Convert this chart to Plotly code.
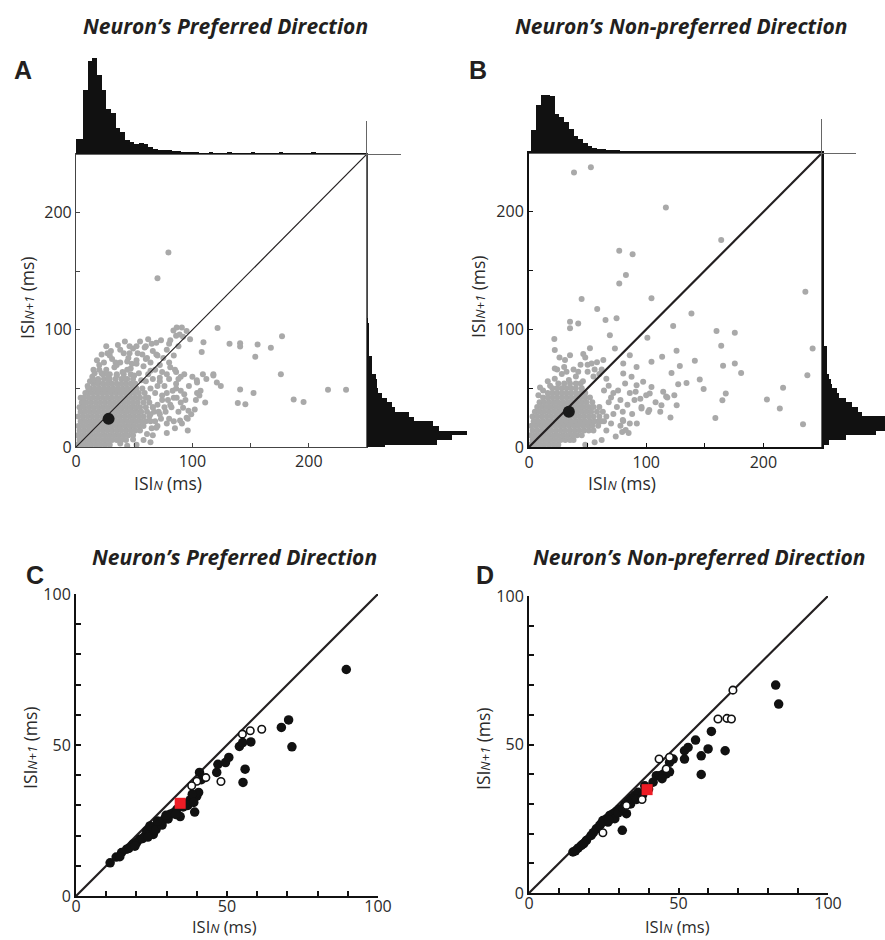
import plotly.graph_objects as go

W, H = 885, 940

# ---------------- DATA ----------------
# Panel A dense cloud (rows: y value -> x values), ms
a_core_rows_y = [2, 6, 10, 14, 18, 22, 26, 30, 34, 38, 42, 46, 50, 54, 58, 62]
a_core_rows_x = [
    [1, 5, 9, 13, 17, 21, 25, 29],
    [3, 7, 11, 15, 19, 23, 27, 31, 35, 39, 43],
    [1, 5, 9, 13, 17, 21, 25, 29, 33, 37, 41, 45, 49],
    [3, 7, 11, 15, 19, 23, 27, 31, 35, 39, 43, 47, 51, 55],
    [2, 6, 10, 14, 18, 22, 26, 30, 34, 38, 42, 46, 50, 54, 58],
    [4, 8, 12, 16, 20, 24, 28, 32, 36, 40, 44, 48, 52, 56, 60, 64],
    [2, 6, 10, 14, 18, 22, 26, 30, 34, 38, 42, 46, 50, 54, 58, 63],
    [4, 8, 12, 16, 20, 24, 28, 32, 36, 40, 44, 48, 52, 56, 61, 67],
    [3, 7, 11, 15, 19, 23, 27, 31, 35, 39, 43, 47, 51, 55, 60, 66],
    [5, 9, 13, 17, 21, 25, 29, 33, 37, 41, 45, 49, 53, 58, 63],
    [7, 11, 15, 19, 23, 27, 31, 35, 39, 43, 47, 51, 55, 60],
    [10, 14, 18, 22, 26, 30, 34, 38, 42, 46, 50, 54, 59],
    [12, 16, 20, 24, 28, 32, 36, 40, 44, 48, 52, 57],
    [15, 19, 23, 27, 31, 35, 39, 43, 47, 51],
    [19, 24, 29, 34, 39, 44, 49],
    [23, 29, 35, 41, 47],
]
a_halo_x = [14, 20, 27, 33, 40, 47, 54, 58, 24, 31, 38, 45, 52, 57, 64, 66, 72, 75, 78, 30,
            36, 42, 49, 55, 62, 84, 88, 92, 98, 18, 12, 8, 4, 66, 70, 74,
            66, 70, 73, 76, 79, 83, 86, 88, 90, 93, 97, 99, 103, 107, 64, 58, 52, 44, 78,
            85, 91, 96, 100, 93, 86, 80, 74, 68, 64, 60,
            10, 16, 22, 28, 35, 42, 50, 56, 62, 68, 60, 70, 80, 85, 90, 20, 27, 34, 41, 46,
            53, 59, 65, 73, 80, 86, 15, 26, 44, 48,
            65, 68, 71, 70, 74, 77, 80, 82, 84, 86, 90, 94, 96, 76, 72, 78, 88, 62, 64, 66]
a_halo_y = [60, 66, 62, 68, 64, 67, 63, 69, 72, 75, 72, 76, 74, 79, 72, 82, 70, 76, 83, 82,
            87, 90, 84, 90, 92, 78, 86, 94, 92, 74, 56, 46, 42, 58, 52, 64,
            10, 18, 24, 34, 40, 48, 54, 30, 38, 45, 52, 28, 40, 48, 4, 6, 2, 1, 12,
            16, 20, 14, 60, 62, 64, 58, 44, 46, 50, 56,
            52, 57, 63, 58, 61, 58, 61, 57, 62, 66, 75, 78, 72, 66, 60, 70, 80, 72, 80, 86,
            80, 85, 88, 91, 88, 95, 66, 86, 66, 71,
            16, 22, 30, 36, 40, 30, 24, 34, 42, 50, 48, 40, 24, 52, 56, 62, 58, 42, 28, 34]
a_sparse_x = [22, 29, 38, 46, 52, 60, 69, 86.5, 89, 81, 95, 16, 26, 35, 44, 52, 61, 69,
              10.6, 6, 19, 64, 72, 81, 78, 86.5, 81, 92, 72, 84, 95, 102, 69, 61, 49, 38,
              109, 112, 104, 118, 121, 111, 104,
              79.4, 70, 83.7, 90.9, 121.6, 109.5, 108, 131.9, 141, 141, 156, 167.4, 177,
              154, 176, 118, 124.4, 141, 152.5, 139, 145.5, 187, 195.5, 216.5, 232, 106,
              103.8, 96.6, 89.4, 78]
a_sparse_y = [79, 78, 83, 80, 86, 86, 89, 102, 96, 91, 99, 63, 66, 70, 73, 71, 76, 79,
              50, 38, 56, 65, 59, 68, 46, 42, 36, 33.5, 28, 22, 25, 32, 16.5, 11, 6.5, 3,
              62, 58, 55, 62, 55, 38, 46,
              166, 144, 99.4, 102, 101.6, 89.4, 81, 88, 88.6, 85.8, 87.5, 84.7, 94.6,
              77, 62, 61, 52, 49, 46, 37.5, 36.4, 40.6, 38.4, 48.9, 48.9, 44,
              57, 31, 22.7, 20]
a_mean = (28, 24)

# Panel B dense cloud
b_core_rows_y = [2, 6, 10, 14, 18, 22, 26, 30, 34, 38, 42, 46, 50, 54]
b_core_rows_x = [
    [1, 5, 9, 13, 17, 21, 25],
    [3, 7, 11, 15, 19, 23, 27, 31, 35, 38],
    [1, 5, 9, 13, 17, 21, 25, 29, 33, 37, 41, 45],
    [3, 7, 11, 15, 19, 23, 27, 31, 35, 39, 43, 47, 51, 55],
    [2, 6, 10, 14, 18, 22, 26, 30, 34, 38, 42, 46, 50, 54, 59],
    [4, 8, 12, 16, 20, 24, 28, 32, 36, 40, 44, 48, 52, 56, 60, 64],
    [3, 7, 11, 15, 19, 23, 27, 31, 35, 39, 43, 47, 51, 55, 60, 66],
    [5, 9, 13, 17, 21, 25, 29, 33, 37, 41, 45, 49, 53, 58, 63],
    [7, 11, 15, 19, 23, 27, 31, 35, 39, 43, 47, 51, 55, 60],
    [9, 13, 17, 21, 25, 29, 33, 37, 41, 45, 49, 54],
    [12, 16, 20, 24, 28, 32, 36, 40, 44, 48, 52],
    [16, 20, 24, 28, 32, 36, 40, 44, 48],
    [20, 24, 28, 32, 36, 40, 45],
    [25, 30, 35, 40, 44],
]
b_halo_x = [22, 28, 34, 40, 46, 30, 38, 44, 50, 55, 26, 35, 48, 18, 12, 8, 52, 58, 62, 66,
            66, 70, 72, 75, 78, 84, 88, 92, 96, 100, 86, 76, 70, 68, 62, 56, 48, 108, 112,
            118, 74, 85,
            16, 24, 32, 42, 50, 56, 60, 64, 68, 72, 80, 86, 78, 90, 62]
b_halo_y = [58, 62, 57, 60, 56, 68, 66, 70, 64, 60, 76, 78, 76, 52, 48, 44, 84, 72, 66, 58,
            14, 20, 28, 34, 40, 36, 28, 20, 34, 44, 46, 48, 42, 52, 6, 4, 2, 38, 30,
            42, 9, 12,
            56, 66, 64, 64, 70, 66, 62, 48, 38, 46, 30, 20, 18, 40, 22]
b_sparse_x = [38.4, 52.8, 116.8, 164, 235.8, 242, 237.5, 233.8, 77, 88.4,
              82.7, 77, 44.9, 104.5, 58.2, 65.3, 74.7, 35, 42, 35,
              138.6, 123, 101, 160, 175.6, 164, 69, 73.3, 21.6, 22,
              86, 125.9, 141.5, 113.6, 104.5, 165.6, 175.6, 181, 128.7, 121.6,
              145.7, 127.3, 134.4, 149, 216.8, 167.9, 165, 203, 214, 91.8,
              97.4, 104.5, 114.5, 117, 103, 124, 126, 113, 120.7, 159,
              101.7, 96, 80.4, 79.5, 37.8, 9.4, 22, 30.7, 46.3, 53.4,
              63.4, 80.4, 87.5, 80.4, 91.8, 82, 91, 95, 102.6, 80, 82.5]
b_sparse_y = [233.5, 237.8, 203.7, 176, 132, 83.8, 61, 19.3, 166.8, 164,
              146.3, 139, 125.9, 126.4, 117.3, 108, 109.4, 106.5, 105, 101,
              113.6, 102.8, 92.9, 98.6, 97.2, 86, 95, 83.8, 91.8, 82.4,
              78, 81.8, 73.3, 76.7, 72.4, 69, 71, 63, 68.8, 63,
              57.4, 53.4, 54.5, 49.4, 50.3, 45.5, 39.8, 40.3, 32.7, 52.5,
              55.4, 51, 46.9, 43, 45.5, 44, 35.5, 35.5, 25, 24.7,
              29.8, 32.7, 22.2, 12.8, 10, 50.6, 66.8, 73.9, 79, 71,
              73.9, 71, 59.7, 62.5, 68, 54, 47, 41, 31.5, 23, 14.5]
b_mean = (34, 30)

# Marginal histograms (4-ms bins centred on 0, 4, 8 ... ms), bar lengths
a_top_hist = [15, 15, 64, 93, 96, 79, 64, 45, 41, 26, 22, 14, 12, 10, 11, 10, 7, 5, 4.5, 4,
              4, 3, 3, 2, 2, 1.5, 1.5, 1, 1, 1.5, 1, 1, 1, 1.5, 1, 1, 1, 1, 1.5, 1,
              1, 1, 1, 1, 1.5, 1, 1, 1, 1, 1, 1, 1.5, 1, 1, 1, 1, 0.5, 1, 0.5, 0.5,
              1, 0.5, 0.5]
a_right_hist = [18, 70, 85, 100, 72, 66, 47, 42, 28, 25, 20, 15, 11, 10, 10, 9, 5, 5, 5, 5,
                2, 2, 2, 2, 2, 2, 2, 0.5]
b_top_hist = [2, 23, 48, 58, 58, 57, 39, 36, 31, 24, 17, 14, 10, 7, 5, 4, 4, 3.5, 3, 3,
              2.5, 2, 2, 1.5, 1.5, 1.5, 1, 1.5, 1, 1, 1, 1.5, 1, 1, 1.5, 1, 1, 1, 1, 1,
              1, 1, 1, 1, 1, 1, 1, 1, 1, 1, 1, 1, 1, 1, 1, 1, 1, 1, 1, 1, 0.5, 0.5, 1]
b_right_hist = [2, 7, 24, 54, 75, 78, 70, 40, 36, 30, 24, 17, 15, 10, 9, 7, 5, 5, 5, 5,
                5, 5, 2, 2, 2, 2, 2, 2, 2, 2, 2, 2, 2, 2, 2, 1]
hist_bin = 4

# Panel C
c_filled_x = [11.3, 13.3, 15.1, 16.8, 18.8, 20.1, 21.2, 22.9, 24.0, 25.1, 25.9, 26.7, 27.8,
              29.2, 30.1, 31.2, 32.3, 33.4, 36.7, 37.8, 38.9, 40.0, 40.6, 23.4, 25.6, 24.5,
              34.5, 39.3, 40.9, 46.6, 47.0, 49.5, 50.6, 54.1, 55.2, 57.9, 56.0, 55.3, 68.0,
              70.4, 71.5, 89.5, 38.5, 41.5,
              14.5, 17.5, 19.5, 22.0, 23.8, 26.5, 28.5, 30.5, 33.0, 35.5, 37.0, 39.0, 27.0,
              29.8]
c_filled_y = [11.0, 12.9, 14.4, 15.5, 17.1, 17.7, 18.8, 19.9, 20.8, 21.5, 22.7, 23.4, 24.3,
              25.4, 26.3, 27.1, 27.6, 28.7, 30.7, 31.8, 32.6, 33.1, 34.3, 21.5, 20.4, 23.2,
              26.3, 27.8, 40.9, 40.9, 43.6, 44.2, 45.9, 49.5, 50.8, 51.0, 42.0, 37.6, 55.8,
              58.3, 49.4, 75.0, 33.7, 38.5,
              13.0, 15.8, 16.5, 19.0, 19.5, 22.0, 23.5, 25.5, 27.0, 29.5, 30.0, 31.0, 24.8,
              26.7]
c_open_x = [55.1, 57.7, 61.5, 43.0, 48.0, 40.0, 38.3]
c_open_y = [53.6, 54.7, 55.2, 39.2, 37.9, 38.0, 36.5]
c_red = (34.5, 30.7)

# Panel D
d_filled_x = [14.7, 16.4, 17.5, 19.2, 20.8, 22.5, 23.6, 24.7, 25.9, 27.0, 28.1, 29.2, 30.3,
              32.0, 33.1, 34.2, 35.3, 36.5, 26.4, 28.7, 32.6, 31.2, 41.5, 42.6, 43.7, 45.0,
              45.9, 47.0, 48.2, 52.0, 52.0, 53.2, 55.7, 57.6, 57.6, 59.9, 61.0, 65.6, 82.5,
              83.5, 38.7,
              15.5, 18.3, 21.5, 24.0, 26.8, 29.8, 31.5, 34.0, 36.0, 38.0, 40.0, 44.5, 47.0]
d_filled_y = [13.8, 15.1, 16.0, 17.7, 19.4, 21.6, 22.7, 24.4, 25.0, 26.1, 26.7, 27.4, 28.3,
              29.7, 30.8, 31.9, 32.8, 33.9, 23.9, 25.0, 26.7, 21.1, 37.3, 39.5, 39.5, 40.1,
              40.1, 44.0, 45.1, 47.9, 45.1, 49.0, 51.5, 46.2, 39.9, 48.5, 54.4, 47.9, 70.0,
              63.6, 36.1,
              14.2, 16.6, 20.3, 23.2, 24.5, 27.0, 28.5, 30.0, 31.5, 33.0, 35.0, 38.5, 40.8]
d_open_x = [68.2, 63.2, 66.2, 67.7, 43.5, 47.0, 37.8, 24.7, 32.6, 45.9]
d_open_y = [68.3, 58.6, 58.8, 58.6, 45.1, 45.7, 31.5, 20.3, 29.5, 41.8]
d_red = (39.5, 34.8)

ab_range = [0, 250]
cd_range = [0, 100]
ab_tickvals = [0, 50, 100, 150, 200]
ab_ticktext = ["0", "", "100", "", "200"]
cd_tickvals = [0, 10, 20, 30, 40, 50, 60, 70, 80, 90, 100]
cd_ticktext = ["0", "", "", "", "", "50", "", "", "", "", "100"]

titles = ["Neuron\u2019s Preferred Direction", "Neuron\u2019s Non-preferred Direction"]
letters = ["A", "B", "C", "D"]


def flatten(rows_y, rows_x):
    xs, ys = [], []
    for yv, row in zip(rows_y, rows_x):
        for xv in row:
            xs.append(xv)
            ys.append(yv)
    return xs, ys


# ---------------- FIGURE ----------------
def fx(px):
    return px / W


def fy(py):
    return 1 - py / H


GRAY = "#a9a9a9"
INK = "#231f20"
FONT = "Open Sans"

fig = go.Figure()

# Panel A and B scatter
for ax_id, rows_y, rows_x, hx, hy, sx, sy, mean, lw in [
    ("", a_core_rows_y, a_core_rows_x, a_halo_x, a_halo_y, a_sparse_x, a_sparse_y, a_mean, 1.2),
    ("4", b_core_rows_y, b_core_rows_x, b_halo_x, b_halo_y, b_sparse_x, b_sparse_y, b_mean, 2.2),
]:
    cx, cy = flatten(rows_y, rows_x)
    xa, ya = "x" + ax_id, "y" + ax_id
    fig.add_trace(go.Scatter(x=cx + hx + sx, y=cy + hy + sy, mode="markers", xaxis=xa, yaxis=ya,
                             marker=dict(size=6, color=GRAY), showlegend=False,
                             hoverinfo="skip"))
    fig.add_trace(go.Scatter(x=ab_range, y=ab_range, mode="lines", xaxis=xa, yaxis=ya,
                             line=dict(color=INK, width=lw), showlegend=False))
    fig.add_trace(go.Scatter(x=[mean[0]], y=[mean[1]], mode="markers", xaxis=xa, yaxis=ya,
                             marker=dict(size=12, color="#1a1a1a"), showlegend=False))

# Histograms
fig.add_trace(go.Bar(y=a_top_hist, x0=0, dx=hist_bin, xaxis="x2", yaxis="y2",
                     marker=dict(color="#111", line=dict(width=0)), showlegend=False))
fig.add_trace(go.Bar(x=a_right_hist, y0=0, dy=hist_bin, orientation="h", xaxis="x3", yaxis="y3",
                     marker=dict(color="#111", line=dict(width=0)), showlegend=False))
fig.add_trace(go.Bar(y=b_top_hist, x0=0, dx=hist_bin, xaxis="x5", yaxis="y5",
                     marker=dict(color="#111", line=dict(width=0)), showlegend=False))
fig.add_trace(go.Bar(x=b_right_hist, y0=0, dy=hist_bin, orientation="h", xaxis="x6", yaxis="y6",
                     marker=dict(color="#111", line=dict(width=0)), showlegend=False))

# Panels C and D
for ax_id, fxs, fys, oxs, oys, red in [
    ("7", c_filled_x, c_filled_y, c_open_x, c_open_y, c_red),
    ("8", d_filled_x, d_filled_y, d_open_x, d_open_y, d_red),
]:
    xa, ya = "x" + ax_id, "y" + ax_id
    fig.add_trace(go.Scatter(x=cd_range, y=cd_range, mode="lines", xaxis=xa, yaxis=ya,
                             line=dict(color=INK, width=2.2), showlegend=False))
    fig.add_trace(go.Scatter(x=fxs, y=fys, mode="markers", xaxis=xa, yaxis=ya,
                             marker=dict(size=9.5, color="#111"), showlegend=False))
    fig.add_trace(go.Scatter(x=oxs, y=oys, mode="markers", xaxis=xa, yaxis=ya,
                             marker=dict(size=7.5, color="white", line=dict(color="#111", width=1.6)),
                             showlegend=False))
    fig.add_trace(go.Scatter(x=[red[0]], y=[red[1]], mode="markers", xaxis=xa, yaxis=ya,
                             marker=dict(size=11, color="#ee1c25", symbol="square"),
                             showlegend=False))

tickfont = dict(family=FONT, size=16, color="#2a2a2a")


def scatter_axis(dom, lw, lc, tv, tt, rng, anchor):
    return dict(domain=dom, range=rng, showline=True, linewidth=lw, linecolor=lc, mirror=True,
                ticks="inside", ticklen=4, tickwidth=1, tickcolor=lc, tickvals=tv, ticktext=tt,
                tickfont=tickfont, showgrid=False, zeroline=False, fixedrange=True,
                anchor=anchor, automargin=False)


hidden = dict(visible=False, fixedrange=True)


def hist_line_axis(dom, rng, anchor):
    return dict(domain=dom, range=rng, showline=True, linewidth=1, linecolor="#666",
                showticklabels=False, ticks="", showgrid=False, zeroline=False,
                anchor=anchor, fixedrange=True, automargin=False)


def cd_axis(dom, anchor, standoff=0):
    return dict(domain=dom, range=cd_range, showline=True, linewidth=2, linecolor="#111",
                mirror=False, ticks="inside", ticklen=5, tickwidth=1.5, tickcolor="#111",
                tickvals=cd_tickvals, ticktext=cd_ticktext, tickfont=tickfont,
                showgrid=False, zeroline=False, anchor=anchor, fixedrange=True,
                automargin=False, ticklabelstandoff=standoff)


layout = dict(
    width=W, height=H, autosize=False,
    margin=dict(l=0, r=0, t=0, b=0, pad=0, autoexpand=False),
    paper_bgcolor="white", plot_bgcolor="rgba(0,0,0,0)",
    bargap=0, showlegend=False,
    xaxis=scatter_axis([fx(76), fx(367)], 1.2, "#444", ab_tickvals, ab_ticktext, ab_range, "y"),
    yaxis=scatter_axis([fy(447), fy(154)], 1.2, "#444", ab_tickvals, ab_ticktext, ab_range, "x"),
    xaxis2=hist_line_axis([fx(76), fx(401)], [0, 279], "y2"),
    yaxis2=dict(domain=[fy(154), fy(50)], range=[0, 104], anchor="x2", **hidden),
    xaxis3=dict(domain=[fx(367), fx(477)], range=[0, 110], anchor="y3", **hidden),
    yaxis3=hist_line_axis([fy(447), fy(121)], [0, 278], "x3"),
    xaxis4=scatter_axis([fx(529), fx(822)], 2, "#111", ab_tickvals, ab_ticktext, ab_range, "y4"),
    yaxis4=scatter_axis([fy(447), fy(153)], 2, "#111", ab_tickvals, ab_ticktext, ab_range, "x4"),
    xaxis5=hist_line_axis([fx(529), fx(856)], [0, 279], "y5"),
    yaxis5=dict(domain=[fy(153), fy(50)], range=[0, 103], anchor="x5", **hidden),
    xaxis6=dict(domain=[fx(822), 1.0], range=[0, 63], anchor="y6", **hidden),
    yaxis6=hist_line_axis([fy(447), fy(119)], [0, 279], "x6"),
    xaxis7=cd_axis([fx(76), fx(378)], "y7", -5),
    yaxis7=cd_axis([fy(896), fy(594)], "x7"),
    xaxis8=cd_axis([fx(529), fx(828)], "y8", -5),
    yaxis8=cd_axis([fy(893), fy(596)], "x8"),
)
fig.update_layout(**layout)

ann = []
title_font = dict(family=FONT, size=21, color=INK)
for t, (px, py) in zip([titles[0], titles[1], titles[0], titles[1]],
                       [(225, 26), (681, 26), (234, 557), (699, 557)]):
    ann.append(dict(text="<b><i>" + t + "</i></b>", x=fx(px), y=fy(py), xref="paper",
                    yref="paper", showarrow=False, font=title_font,
                    xanchor="center", yanchor="middle"))
for t, (px, py) in zip(letters, [(23, 70), (478, 70), (35, 575), (485, 575)]):
    ann.append(dict(text="<b>" + t + "</b>", x=fx(px), y=fy(py), xref="paper", yref="paper",
                    showarrow=False, font=dict(family="Liberation Sans", size=25, color=INK),
                    xanchor="center", yanchor="middle"))

ylab = "ISI<i><span style='font-size:13px'>N+1</span></i> (ms)"
xlab = "ISI<i><span style='font-size:13px'>N</span></i> (ms)"
lab_font = dict(family=FONT, size=17.5, color="#2a2a2a")
lab_font_cd = dict(family=FONT, size=16.5, color="#2a2a2a")
for (px, py) in [(27, 298), (478, 297), (30, 748), (483, 748)]:
    ann.append(dict(text=ylab, x=fx(px), y=fy(py), xref="paper", yref="paper",
                    showarrow=False, font=lab_font, textangle=-90,
                    xanchor="center", yanchor="middle"))
# x-axis titles
for (px, py) in [(168, 470), (622, 470)]:
    ann.append(dict(text=xlab, x=fx(px), y=fy(py), xref="paper", yref="paper",
                    showarrow=False, font=lab_font, xanchor="center", yanchor="top",
                    borderpad=0))
for (px, py) in [(224, 939), (677, 939)]:
    ann.append(dict(text=xlab, x=fx(px), y=fy(py), xref="paper", yref="paper",
                    showarrow=False, font=lab_font_cd, xanchor="center", yanchor="bottom",
                    borderpad=0))

fig.update_layout(annotations=ann)
fig.write_html("out.html")
